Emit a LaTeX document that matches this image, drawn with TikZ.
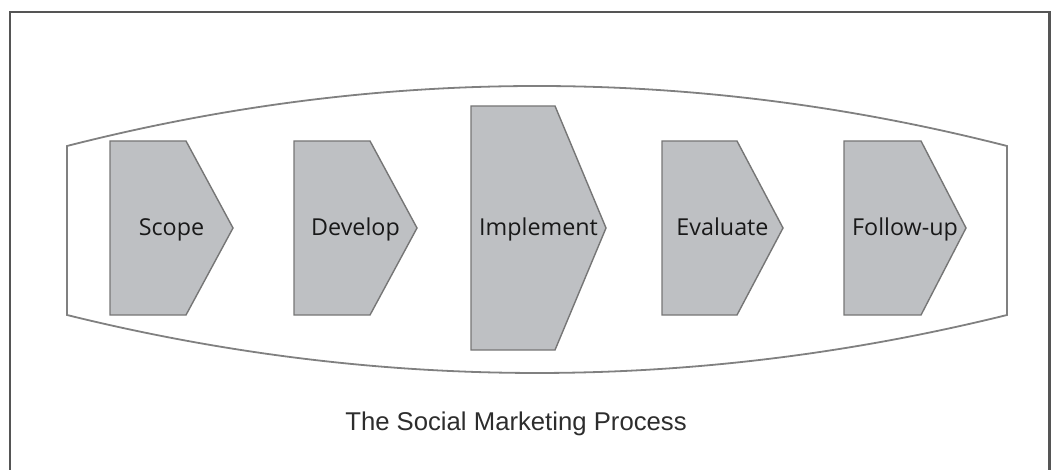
\documentclass[tikz,border=0pt]{standalone}
\usepackage{fontspec}
\setmainfont{Liberation Sans}
\newfontfamily\labelfont{Open Sans}
\definecolor{stepgrey}{RGB}{190,192,195}
\definecolor{stepedge}{RGB}{118,118,118}
\definecolor{hullgrey}{RGB}{128,128,128}
\definecolor{framegrey}{RGB}{85,85,85}
\definecolor{labeltext}{RGB}{25,25,25}
\definecolor{captiontext}{RGB}{45,45,45}
\newcommand{\procstep}[7]{%
  \draw[stepshape] (#2,#5) -- (#3,#5) -- (#4,{(#5+#6)/2}) -- (#3,#6) -- (#2,#6) -- cycle;
  \node[steplabel, anchor=base] (#1) at ({(#2+#4)/2},236) {#7};
}
\begin{document}
\begin{tikzpicture}[x=1pt,y=-1pt,
  stepshape/.style={fill=stepgrey, draw=stepedge, line width=1.4pt, line join=miter},
  steplabel/.style={font=\labelfont\fontsize{23.3}{26}\selectfont, text=labeltext, inner sep=0pt},
  hull/.style={draw=hullgrey, line width=1.8pt, line join=miter},
  frame/.style={draw=framegrey, line width=2.2pt},
  caption/.style={font=\fontsize{25.7}{30}\selectfont, text=captiontext, inner sep=0pt}]
\useasboundingbox (0,0) rectangle (1051,470);
% outer frame (open at the bottom, cut by the page edge)
\draw[frame] (10,475) -- (10,12) -- (1049.5,12) -- (1049.5,475);
% enclosing lens shape
\draw[hull] (67,146) .. controls (380.3,66) and (693.7,66) .. (1007,146)
  -- (1007,315) .. controls (693.7,392.3) and (380.3,392.3) .. (67,315) -- cycle;
% process steps
\procstep{scope}{110}{186}{233}{141}{315}{Scope}
\procstep{develop}{294}{370}{417}{141}{315}{Develop}
\procstep{implement}{471}{555}{606}{106}{350}{Implement}
\procstep{evaluate}{662}{737}{783}{141}{315}{Evaluate}
\procstep{followup}{844}{921}{966}{141}{315}{Follow-up}
% caption
\node[caption, anchor=base] (title) at (516,430) {The Social Marketing Process};
\end{tikzpicture}
\end{document}
